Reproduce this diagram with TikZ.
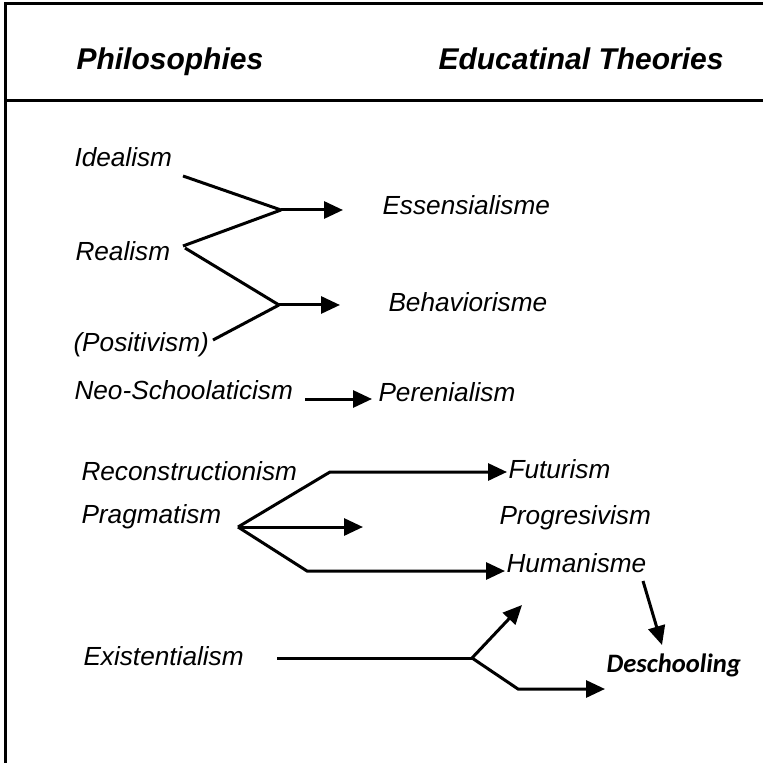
\documentclass[tikz,border=0pt]{standalone}
\usepackage{fontspec}
\setmainfont{Liberation Sans}
\newfontfamily\calfont{Carlito}
\usetikzlibrary{arrows.meta}

\begin{document}
\begin{tikzpicture}[x=0.5pt,y=-0.5pt,line width=1.5pt,>={Triangle[length=9.5pt,width=8.5pt]},
  lbl/.style={anchor=base west,inner sep=0pt,font=\fontsize{13.1}{15}\selectfont\itshape},
  head/.style={anchor=base west,inner sep=0pt,font=\fontsize{15}{17}\selectfont\bfseries\itshape}]
\useasboundingbox(0,0)rectangle(763,763);
% frame
\draw(5,763)--(5,4)--(763,4);
\draw(5,101)--(763,101);
\node[head](philo)at(75,70){Philosophies};
\node[head](theo)at(437,70){Educatinal Theories};
% philosophies
\node[lbl](ideal)at(73,167){Idealism};
\node[lbl](real)at(74,261){Realism};
\node[lbl](posit)at(72,352){(Positivism)};
\node[lbl](neo)at(73,400){Neo-Schoolaticism};
\node[lbl](recon)at(80,480){Reconstructionism};
\node[lbl](prag)at(80,523){Pragmatism};
\node[lbl](exist)at(82,665){Existentialism};
% theories
\node[lbl](ess)at(381,215){Essensialisme};
\node[lbl](beh)at(387,312){Behaviorisme};
\node[lbl](pere)at(377,401){Perenialism};
\node[lbl](fut)at(507,478){Futurism};
\node[lbl](prog)at(498,524){Progresivism};
\node[lbl](hum)at(505,572){Humanisme};
\node[anchor=base west,inner sep=0pt,font=\calfont\fontsize{13.3}{15}\selectfont\bfseries\itshape](desch)at(605,672){Deschooling};
% junctions
\coordinate(i1)at(183,176);\coordinate(r1)at(183,246);\coordinate(r2)at(185,248);
\coordinate(p1)at(213,340);\coordinate(j1)at(281,210);\coordinate(j2)at(279,305);
\coordinate(e1)at(343,210);\coordinate(b1)at(340,305);
\coordinate(n1)at(305,399);\coordinate(n2)at(372,399);
\coordinate(j3)at(238,527);\coordinate(cu)at(330,472);\coordinate(cm)at(363,527);\coordinate(cl)at(307,571);
\coordinate(x1)at(277,658);\coordinate(j4)at(472,658);\coordinate(xu)at(522,605);
\coordinate(xl)at(518,689);\coordinate(xe)at(605,689);
\coordinate(h1)at(643,581);\coordinate(h2)at(662,645);
% connectors
\draw(i1)--(j1)(r1)--(j1)(r2)--(j2)(p1)--(j2);
\draw[->](j1)--(e1);
\draw[->](j2)--(b1);
\draw[->](n1)--(n2);
\draw[->](j3)--(cu)--(cu-|fut.west);
\draw[->](j3)--(cm);
\draw[->](j3)--(cl)--(cl-|hum.west);
\draw(x1)--(j4);
\draw[->](j4)--(xu);
\draw[->](j4)--(xl)--(xe);
\draw[->](h1)--(h2);
\end{tikzpicture}
\end{document}
